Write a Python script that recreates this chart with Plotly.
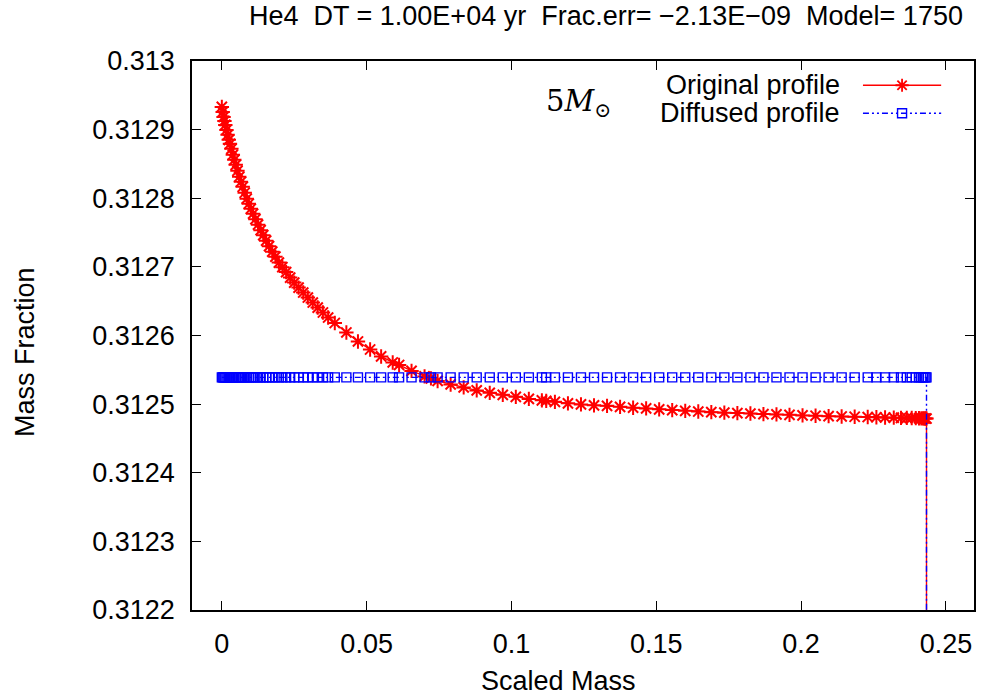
import plotly.graph_objects as go

# ---------------- data ----------------
scaled_mass = [
    0.0000, 0.0003, 0.0006, 0.0009, 0.0012, 0.0016, 0.0020, 0.0024, 0.0028, 0.0033,
    0.0038, 0.0043, 0.0048, 0.0054, 0.0060, 0.0066, 0.0072, 0.0079, 0.0086, 0.0093,
    0.0100, 0.0108, 0.0116, 0.0125, 0.0134, 0.0143, 0.0153, 0.0163, 0.0174, 0.0185,
    0.0197, 0.0209, 0.0222, 0.0236, 0.0250, 0.0265, 0.0281, 0.0297, 0.0314, 0.0331,
    0.0349, 0.0367, 0.0390, 0.0430, 0.0470, 0.0512, 0.0550, 0.0590, 0.0612, 0.0655,
    0.0700, 0.0722, 0.0745, 0.0790, 0.0835, 0.0880, 0.0925, 0.0970, 0.1015, 0.1060,
    0.1105, 0.1120, 0.1150, 0.1195, 0.1240, 0.1285, 0.1330, 0.1375, 0.1420, 0.1465,
    0.1510, 0.1555, 0.1600, 0.1645, 0.1690, 0.1735, 0.1780, 0.1825, 0.1870, 0.1915,
    0.1960, 0.2005, 0.2050, 0.2095, 0.2140, 0.2185, 0.2230, 0.2260, 0.2290, 0.2320,
    0.2345, 0.2365, 0.2382, 0.2396, 0.2407, 0.2415, 0.2421, 0.2426, 0.2430, 0.2433,
    0.2433,
]

original_profile = [
    0.3129331, 0.3129258, 0.3129185, 0.3129127, 0.3129069, 0.3128996, 0.3128924, 0.3128851, 0.3128793, 0.3128720,
    0.3128633, 0.3128560, 0.3128487, 0.3128400, 0.3128313, 0.3128240, 0.3128167, 0.3128080, 0.3127993, 0.3127920,
    0.3127847, 0.3127775, 0.3127695, 0.3127615, 0.3127535, 0.3127462, 0.3127382, 0.3127302, 0.3127222, 0.3127149,
    0.3127062, 0.3126996, 0.3126924, 0.3126844, 0.3126771, 0.3126698, 0.3126626, 0.3126553, 0.3126480, 0.3126407,
    0.3126335, 0.3126262, 0.3126182, 0.3126044, 0.3125913, 0.3125796, 0.3125695, 0.3125607, 0.3125571, 0.3125484,
    0.3125404, 0.3125375, 0.3125338, 0.3125287, 0.3125244, 0.3125200, 0.3125164, 0.3125135, 0.3125106, 0.3125076,
    0.3125055, 0.3125047, 0.3125033, 0.3125011, 0.3124996, 0.3124982, 0.3124975, 0.3124960, 0.3124948, 0.3124938,
    0.3124924, 0.3124913, 0.3124902, 0.3124892, 0.3124883, 0.3124876, 0.3124869, 0.3124863, 0.3124855, 0.3124850,
    0.3124844, 0.3124836, 0.3124831, 0.3124825, 0.3124820, 0.3124816, 0.3124812, 0.3124809, 0.3124806, 0.3124803,
    0.3124800, 0.3124799, 0.3124797, 0.3124796, 0.3124794, 0.3124793, 0.3124792, 0.3124791, 0.3124790, 0.3124790,
    0.0,
]

diffused_profile = [
    0.312539, 0.312539, 0.312539, 0.312539, 0.312539, 0.312539, 0.312539, 0.312539, 0.312539, 0.312539,
    0.312539, 0.312539, 0.312539, 0.312539, 0.312539, 0.312539, 0.312539, 0.312539, 0.312539, 0.312539,
    0.312539, 0.312539, 0.312539, 0.312539, 0.312539, 0.312539, 0.312539, 0.312539, 0.312539, 0.312539,
    0.312539, 0.312539, 0.312539, 0.312539, 0.312539, 0.312539, 0.312539, 0.312539, 0.312539, 0.312539,
    0.312539, 0.312539, 0.312539, 0.312539, 0.312539, 0.312539, 0.312539, 0.312539, 0.312539, 0.312539,
    0.312539, 0.312539, 0.312539, 0.312539, 0.312539, 0.312539, 0.312539, 0.312539, 0.312539, 0.312539,
    0.312539, 0.312539, 0.312539, 0.312539, 0.312539, 0.312539, 0.312539, 0.312539, 0.312539, 0.312539,
    0.312539, 0.312539, 0.312539, 0.312539, 0.312539, 0.312539, 0.312539, 0.312539, 0.312539, 0.312539,
    0.312539, 0.312539, 0.312539, 0.312539, 0.312539, 0.312539, 0.312539, 0.312539, 0.312539, 0.312539,
    0.312539, 0.312539, 0.312539, 0.312539, 0.312539, 0.312539, 0.312539, 0.312539, 0.312539, 0.312539,
    0.0,
]

x_tickvals = [0, 0.05, 0.1, 0.15, 0.2, 0.25]
x_ticktext = ["0", "0.05", "0.1", "0.15", "0.2", "0.25"]
y_tickvals = [0.3122, 0.3123, 0.3124, 0.3125, 0.3126, 0.3127, 0.3128, 0.3129, 0.313]
y_ticktext = ["0.3122", "0.3123", "0.3124", "0.3125", "0.3126", "0.3127", "0.3128", "0.3129", "0.313"]

series_names = ["Original profile", "Diffused profile"]
title_text = "He4\u00a0\u00a0DT = 1.00E+04 yr\u00a0\u00a0Frac.err= \u22122.13E\u221209\u00a0\u00a0Model= 1750"

# ---------------- styling ----------------
FONT = "Liberation Sans, Arial, Helvetica, sans-serif"
FS = 27
RED = "#ff0000"
BLUE = "#0000ff"
BLUE_DASH = "6px,3px,2px,3px,2px,3px"

red_marker = dict(symbol="asterisk-open", size=12, color=RED, line=dict(color=RED, width=2))
blue_marker = dict(symbol="square-open", size=9, color=BLUE, line=dict(color=BLUE, width=1.4))

fig = go.Figure()

fig.add_trace(go.Scatter(
    x=scaled_mass, y=original_profile, mode="lines+markers", name=series_names[0],
    line=dict(color=RED, width=1.4), marker=red_marker, showlegend=False,
))
fig.add_trace(go.Scatter(
    x=scaled_mass, y=diffused_profile, mode="lines+markers", name=series_names[1],
    line=dict(color=BLUE, width=1.4, dash=BLUE_DASH), marker=blue_marker, showlegend=False,
))

# gnuplot-style key (text on the left, sample on the right), drawn on an overlay axis in [0,1]
key_x = [0.858, 0.958]
key_mid = 0.908
key_y = [0.9558, 0.9048]
fig.add_trace(go.Scatter(x=key_x, y=[key_y[0]] * 2, xaxis="x2", yaxis="y2", mode="lines",
                         line=dict(color=RED, width=1.4), showlegend=False, hoverinfo="skip"))
fig.add_trace(go.Scatter(x=[key_mid], y=[key_y[0]], xaxis="x2", yaxis="y2", mode="markers",
                         marker=dict(symbol="asterisk-open", size=11, color=RED,
                                     line=dict(color=RED, width=1.8)),
                         showlegend=False, hoverinfo="skip"))
fig.add_trace(go.Scatter(x=key_x, y=[key_y[1]] * 2, xaxis="x2", yaxis="y2", mode="lines",
                         line=dict(color=BLUE, width=1.4, dash=BLUE_DASH), showlegend=False,
                         hoverinfo="skip"))
fig.add_trace(go.Scatter(x=[key_mid], y=[key_y[1]], xaxis="x2", yaxis="y2", mode="markers",
                         marker=blue_marker, showlegend=False, hoverinfo="skip"))

annotations = [
    dict(text=series_names[0], x=0.8316, y=key_y[0], xref="paper", yref="paper",
         xanchor="right", yanchor="middle", showarrow=False,
         font=dict(family=FONT, size=FS, color="black")),
    dict(text=series_names[1], x=0.8316, y=key_y[1], xref="paper", yref="paper",
         xanchor="right", yanchor="middle", showarrow=False,
         font=dict(family=FONT, size=FS, color="black")),
    dict(text="5<i>M</i><sub>\u2299</sub>", x=0.494, y=0.924, xref="paper", yref="paper",
         xanchor="center", yanchor="middle", showarrow=False,
         font=dict(family="DejaVu Serif, Liberation Serif, serif", size=29, color="black")),
    dict(text=title_text, x=0.529, y=1.0, xref="paper", yref="paper", yshift=45,
         xanchor="center", yanchor="middle", showarrow=False,
         font=dict(family=FONT, size=FS, color="black")),
    dict(text="Mass Fraction", x=0, y=0.47, xref="paper", yref="paper", xshift=-167,
         xanchor="center", yanchor="middle", textangle=-90, showarrow=False,
         font=dict(family=FONT, size=FS, color="black")),
    dict(text="Scaled Mass", x=0.469, y=0, xref="paper", yref="paper", yshift=-71,
         xanchor="center", yanchor="middle", showarrow=False,
         font=dict(family=FONT, size=FS, color="black")),
]

axis_common = dict(
    showgrid=False, zeroline=False, showline=True, linecolor="black", linewidth=1.6,
    mirror="allticks", ticks="inside", ticklen=9, tickwidth=1.4, tickcolor="black",
    tickfont=dict(family=FONT, size=FS, color="black"),
)

fig.update_layout(
    width=981, height=698,
    margin=dict(l=192, r=5, t=61, b=88),
    paper_bgcolor="white", plot_bgcolor="white",
    showlegend=False,
    xaxis=dict(range=[-0.0103, 0.2597], tickvals=x_tickvals, ticktext=x_ticktext,
               ticklabelstandoff=9, **axis_common),
    yaxis=dict(range=[0.3122, 0.313], tickvals=y_tickvals, ticktext=y_ticktext,
               ticklabelstandoff=10, **axis_common),
    xaxis2=dict(range=[0, 1], overlaying="x", visible=False, fixedrange=True),
    yaxis2=dict(range=[0, 1], overlaying="y", visible=False, fixedrange=True),
    annotations=annotations,
)

fig.write_html("out.html")
